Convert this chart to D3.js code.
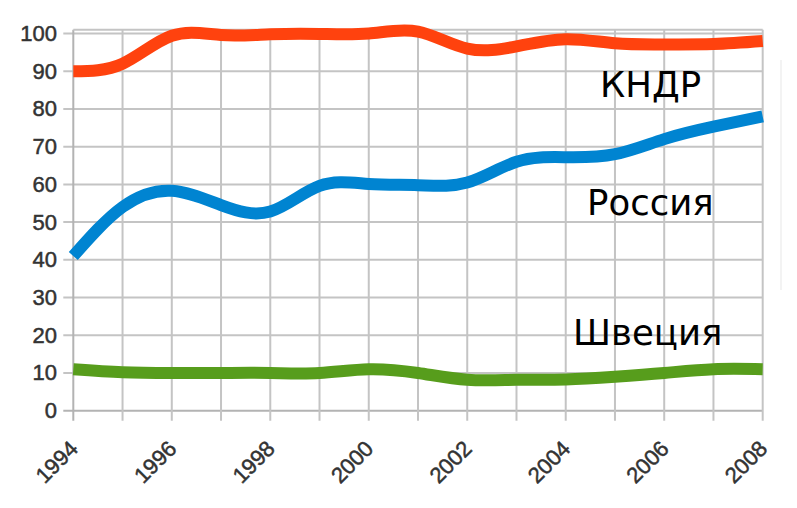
<!DOCTYPE html>
<html>
<head>
<meta charset="utf-8">
<script src="https://cdn.jsdelivr.net/npm/d3@7"></script>
<style>
  html, body { margin: 0; padding: 0; background: #fff; }
  .tick-label { font-family: "Liberation Sans", Arial, sans-serif; font-size: 22px; fill: #333; stroke: #333; stroke-width: 0.5px; }
  .series-label { font-family: "DejaVu Sans", sans-serif; font-size: 35.5px; fill: #000; }
</style>
</head>
<body>
<svg id="chart" width="797" height="508"></svg>
<script>
const years = [1994, 1995, 1996, 1997, 1998, 1999, 2000, 2001, 2002, 2003, 2004, 2005, 2006, 2007, 2008];
const yearLabels = [1994, 1996, 1998, 2000, 2002, 2004, 2006, 2008];
const valueTicks = [0, 10, 20, 30, 40, 50, 60, 70, 80, 90, 100];

const korea = [90, 92, 99.4, 99.6, 99.8, 99.9, 100, 100.5, 96, 96.6, 98.5, 97.4, 97.1, 97.2, 98];
const russia = [41, 54, 58.3, 54.5, 52.8, 59.6, 60.1, 59.8, 60.5, 66, 67.2, 68, 72, 75.3, 78];
const sweden = [11, 10.2, 10, 10, 10, 10, 11, 10, 8.2, 8.2, 8.3, 9, 10, 11, 11];

const seriesNames = ['КНДР', 'Россия', 'Швеция'];
const seriesColors = ['#ff420e', '#0084d1', '#579d1c'];

const svg = d3.select('#chart');

const xScale = d3.scaleLinear().domain([1994, 2008]).range([73.3, 762.7]);
const yScale = d3.scaleLinear().domain([0, 100]).range([410.7, 33.5]);
const plotTop = 29.7;

// faint leftover edge on the right
svg.append('line')
  .attr('x1', 781).attr('x2', 781)
  .attr('y1', 60).attr('y2', 290)
  .attr('stroke', '#f3f3f3')
  .attr('stroke-width', 2);

const grid = svg.append('g').attr('class', 'grid');

grid.selectAll('.h-line')
  .data(valueTicks)
  .enter()
  .append('line')
  .attr('class', 'h-line')
  .attr('x1', xScale(1994) - 10)
  .attr('x2', xScale(2008))
  .attr('y1', d => yScale(d))
  .attr('y2', d => yScale(d))
  .attr('stroke', d => d === 0 ? '#b3b3b3' : '#c4c4c4')
  .attr('stroke-width', 2);

grid.selectAll('.v-line')
  .data(years)
  .enter()
  .append('line')
  .attr('class', 'v-line')
  .attr('x1', d => xScale(d))
  .attr('x2', d => xScale(d))
  .attr('y1', plotTop)
  .attr('y2', yScale(0) + 10)
  .attr('stroke', d => d === 1994 ? '#b3b3b3' : '#c4c4c4')
  .attr('stroke-width', 2);

grid.append('line')
  .attr('x1', xScale(1994))
  .attr('x2', xScale(2008))
  .attr('y1', plotTop)
  .attr('y2', plotTop)
  .attr('stroke', '#c4c4c4')
  .attr('stroke-width', 2);

svg.append('g')
  .selectAll('text')
  .data(valueTicks)
  .enter()
  .append('text')
  .attr('class', 'tick-label')
  .attr('text-anchor', 'end')
  .attr('dominant-baseline', 'central')
  .attr('x', 57)
  .attr('y', d => yScale(d))
  .text(d => d);

svg.append('g')
  .selectAll('text')
  .data(yearLabels)
  .enter()
  .append('text')
  .attr('class', 'tick-label')
  .attr('text-anchor', 'end')
  .attr('transform', d => `translate(${xScale(d) + 6},450) rotate(-45)`)
  .text(d => d);

const line = d3.line()
  .x((d, i) => xScale(years[i]))
  .y(d => yScale(d))
  .curve(d3.curveNatural);

svg.append('g')
  .selectAll('path')
  .data([korea, russia, sweden])
  .enter()
  .append('path')
  .attr('d', line)
  .attr('fill', 'none')
  .attr('stroke', (d, i) => seriesColors[i])
  .attr('stroke-width', 12);

const labelPositions = [
  { x: 600, y: 96.7 },
  { x: 587, y: 215 },
  { x: 573, y: 345 },
];

svg.append('g')
  .selectAll('text')
  .data(seriesNames)
  .enter()
  .append('text')
  .attr('class', 'series-label')
  .attr('x', (d, i) => labelPositions[i].x)
  .attr('y', (d, i) => labelPositions[i].y)
  .text(d => d);
</script>
</body>
</html>
